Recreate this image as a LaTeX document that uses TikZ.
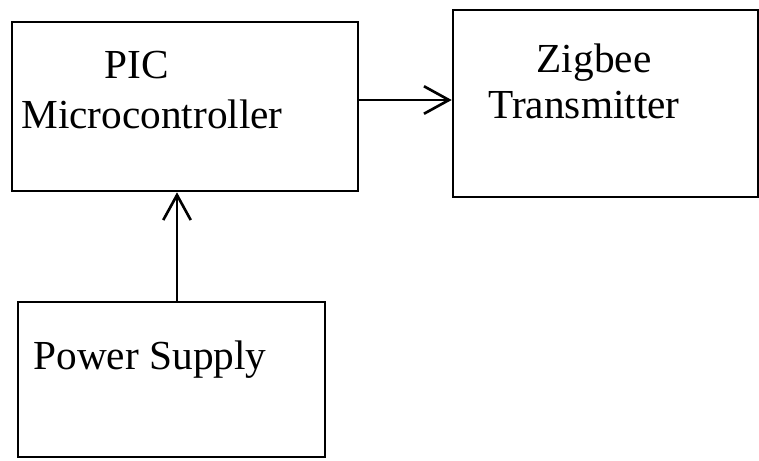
\documentclass[tikz,border=0pt]{standalone}
\usepackage{fontspec}
\setmainfont{Liberation Serif}
\usepackage{tikz}
\usetikzlibrary{arrows.meta, positioning}

\begin{document}
\begin{tikzpicture}[x=0.02cm, y=-0.02cm,
  blk/.style={draw, line width=1.5pt, rectangle, inner sep=0pt},
  lbl/.style={anchor=base, inner sep=0pt, font=\fontsize{23.5}{28}\selectfont},
  arr/.style={-{Straight Barb[length=5mm, width=5.5mm]}, line width=1.5pt}]
  \useasboundingbox (0,0) rectangle (759,460);
  % blocks
  \node[blk, minimum width=6.92cm, minimum height=3.38cm] (pic) at (185,106.5) {};
  \node[blk, minimum width=6.1cm, minimum height=3.74cm] (zig) at (605.5,103.5) {};
  \node[blk, minimum width=6.14cm, minimum height=3.1cm] (pow) at (171.5,379.5) {};
  % texts
  \node[lbl] (picA) at (137,78) {PIC};
  \node[lbl] (picB) at (152,128) {Microcontroller};
  \node[lbl] (zigA) at (594,72) {Zigbee};
  \node[lbl] (zigB) at (584,118) {Transmitter};
  \node[lbl] (powA) at (150,369) {Power Supply};
  % links
  \coordinate (picOut) at ([yshift=0.13cm]pic.east);
  \coordinate (powOut) at ([xshift=0.11cm]pow.north);
  \draw[arr] (picOut) -- (picOut -| zig.west);
  \draw[arr] (powOut) -- (powOut |- pic.south);
\end{tikzpicture}
\end{document}
